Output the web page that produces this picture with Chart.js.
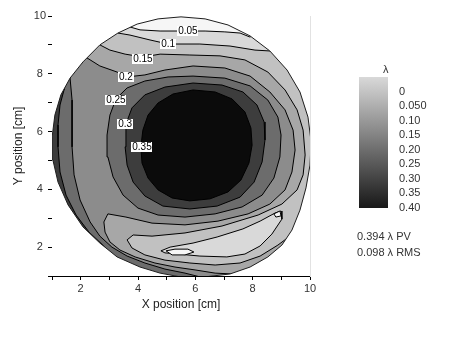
<!DOCTYPE html>
<html><head><meta charset="utf-8">
<script src="https://cdn.jsdelivr.net/npm/chart.js@4.4.0/dist/chart.umd.min.js"></script>
<style>
html,body{margin:0;padding:0;background:#fff;}
#wrap{position:relative;width:474px;height:338px;overflow:hidden;font-family:'Liberation Sans',Arial,sans-serif;}
#main{position:absolute;left:0;top:0;width:474px;height:338px;}
#cb{position:absolute;left:359px;top:60px;width:105px;height:160px;}
.txt{position:absolute;font-size:11px;color:#333;white-space:nowrap;line-height:11px;}
</style></head><body>
<div id="wrap">
<canvas id="main" width="474" height="338"></canvas>
<canvas id="cb" width="105" height="160"></canvas>
</div>
<script>
// ---- axes / text ----
const xTickValues = [1,2,3,4,5,6,7,8,9,10];
const xTickLabels = ['','2','','4','','6','','8','','10'];
const yTickValues = [1,2,3,4,5,6,7,8,9,10];
const yTickLabels = ['','2','','4','','6','','8','','10'];
const xTitle = 'X position [cm]';
const yTitle = 'Y position [cm]';

// ---- contour levels and band colours ----
const levels = [0, 0.05, 0.10, 0.15, 0.20, 0.25, 0.30, 0.35];
const bandColors = ['#f6f6f6','#d9d9d9','#c1c1c1','#a7a7a7','#8c8c8c','#6c6c6c','#3d3d3d','#0b0b0b'];

// ---- contour labels (data coords) ----
const contourLabelText = ['0.05','0.1','0.15','0.2','0.25','0.3','0.35'];
const contourLabelX = [5.74, 5.05, 4.17, 3.58, 3.23, 3.55, 4.14];
const contourLabelY = [9.48, 9.03, 8.51, 7.89, 7.09, 6.26, 5.47];

// ---- colour bar ----
const colorbarTitle = 'λ';
const colorbarTicks = [0, 0.05, 0.10, 0.15, 0.20, 0.25, 0.30, 0.35, 0.40];
const colorbarLabels = ['0','0.050','0.10','0.15','0.20','0.25','0.30','0.35','0.40'];
const colorbarRange = [-0.05, 0.40];
const colorbarTop = '#d9d9d9', colorbarBottom = '#181818';
const statsLines = ['0.394 λ PV', '0.098 λ RMS'];

// ---- aperture outline ----
const rim = [[5.50,9.97],[6.34,9.90],[7.14,9.69],[7.91,9.31],[8.60,8.79],[9.20,8.13],[9.65,7.37],[9.93,6.50],[10.04,5.64],[10.00,4.84],[9.86,4.05],[9.65,3.28],[9.37,2.59],[9.02,2.07],[8.53,1.66],[7.91,1.31],[7.21,1.07],[6.34,0.97],[5.47,0.97],[4.77,1.10],[4.07,1.31],[3.27,1.66],[2.67,2.14],[2.08,2.70],[1.56,3.46],[1.21,4.25],[1.03,5.02],[1.00,5.78],[1.10,6.57],[1.31,7.27],[1.63,7.85],[2.08,8.41],[2.67,9.00],[3.30,9.41],[3.97,9.72],[4.70,9.90]];

// ---- regions (value >= level), closed through points outside the aperture ----
const regionBase = [[0.3,0.4],[10.6,0.4],[10.6,10.6],[0.3,10.6]];
const region005 = [[3.55,10.6],[3.72,9.62],[4.07,9.52],[4.77,9.48],[5.40,9.48],[6.34,9.48],[7.03,9.45],[7.56,9.41],[7.91,9.27],[8.60,9.86],[10.6,10.6],[10.6,0.4],[0.3,0.4],[0.3,10.6]];
const region010 = [[3.30,9.41],[3.72,9.34],[4.42,9.17],[5.05,9.03],[6.16,9.03],[7.21,8.96],[8.08,8.82],[8.60,8.79],[9.13,9.17],[10.6,10.6],[10.6,0.4],[0.3,0.4],[0.3,10.6],[3.0,10.6]];
const region015 = [[2.67,9.00],[3.02,8.82],[3.55,8.68],[4.17,8.58],[4.77,8.68],[5.81,8.65],[6.86,8.62],[7.73,8.48],[8.53,8.06],[9.13,7.44],[9.55,6.75],[9.76,6.05],[9.83,5.19],[9.76,4.50],[9.55,3.98],[9.02,3.49],[8.19,3.11],[6.93,2.73],[5.64,2.49],[4.49,2.38],[3.83,2.42],[3.62,2.25],[3.79,1.97],[4.24,1.73],[4.94,1.55],[5.81,1.45],[6.69,1.38],[7.56,1.45],[8.26,1.69],[8.88,2.07],[9.30,2.38],[10.6,2.0],[10.6,0.4],[0.3,0.4],[0.3,9.17],[2.50,9.17]];
const region020 = [[2.22,8.55],[2.67,8.27],[3.27,8.06],[3.62,7.89],[4.24,7.96],[4.94,8.13],[5.92,8.27],[7.03,8.20],[7.91,7.92],[8.60,7.37],[9.13,6.75],[9.41,6.05],[9.48,5.36],[9.37,4.60],[9.13,3.98],[8.60,3.49],[7.84,3.15],[6.79,2.90],[5.64,2.77],[4.49,2.83],[3.58,3.04],[2.95,3.15],[2.81,2.87],[2.85,2.52],[3.02,2.18],[3.37,1.90],[3.90,1.66],[4.59,1.45],[5.29,1.31],[5.99,1.21],[6.69,1.10],[7.28,1.07],[7.28,0.4],[0.3,0.4],[0.3,8.82],[1.98,8.82]];
const region025in = [[5.92,7.92],[7.03,7.85],[7.91,7.58],[8.53,7.09],[8.88,6.50],[8.99,5.88],[8.95,5.12],[8.74,4.39],[8.33,3.80],[7.63,3.39],[6.69,3.15],[5.64,3.04],[4.70,3.11],[4.00,3.35],[3.48,3.80],[3.13,4.43],[2.95,5.12],[2.92,5.88],[3.02,6.57],[3.23,7.13],[3.62,7.51],[4.24,7.75],[5.05,7.89]];
const region025out = [[1.63,7.85],[1.70,7.09],[1.70,6.23],[1.70,5.47],[1.77,4.50],[1.98,3.63],[2.33,2.87],[2.67,2.38],[3.09,2.00],[3.62,1.69],[4.24,1.45],[4.94,1.24],[5.64,1.10],[6.16,0.97],[6.16,0.4],[0.3,0.4],[0.3,8.48],[1.63,8.48]];
const region030in = [[5.92,7.68],[6.93,7.61],[7.66,7.37],[8.15,6.92],[8.40,6.33],[8.43,5.71],[8.33,4.95],[8.05,4.25],[7.56,3.73],[6.76,3.42],[5.81,3.32],[4.87,3.42],[4.24,3.77],[3.83,4.25],[3.62,4.84],[3.55,5.47],[3.58,6.26],[3.79,6.82],[4.24,7.27],[4.94,7.54]];
const region030out = [[1.42,7.44],[1.28,6.92],[1.21,6.23],[1.21,5.47],[1.28,4.60],[1.49,3.80],[1.84,3.11],[2.29,2.52],[2.85,2.00],[2.85,0.4],[0.3,0.4],[0.3,7.7],[1.42,7.7]];
const region035 = [[5.92,7.44],[6.69,7.37],[7.28,7.13],[7.73,6.68],[7.94,6.12],[7.98,5.53],[7.87,4.91],[7.59,4.32],[7.14,3.91],[6.51,3.67],[5.81,3.60],[5.19,3.70],[4.70,3.98],[4.35,4.39],[4.14,4.91],[4.10,5.47],[4.17,6.05],[4.35,6.57],[4.70,6.99],[5.22,7.30]];
// low islands inside the lower tongue (value < level)
const island010 = [[4.80,1.87],[5.12,2.00],[5.92,2.14],[6.76,2.35],[7.66,2.63],[8.26,2.90],[8.78,3.18],[8.99,3.25],[9.02,2.97],[8.67,2.45],[8.26,2.04],[7.73,1.76],[7.10,1.66],[6.16,1.69],[5.40,1.76],[4.94,1.80]];
const island005a = [[4.98,1.87],[5.29,1.93],[5.74,1.93],[5.95,1.83],[5.64,1.73],[5.19,1.73]];
const island005b = [[8.74,3.15],[8.95,3.25],[8.99,3.08],[8.81,3.04]];

Chart.defaults.font.family = "'Liberation Sans', Arial, sans-serif";
Chart.defaults.color = '#333';

function toPts(a){ return a.map(p => ({x:p[0], y:p[1]})); }
function closed(a){ return a.concat([a[0]]); }

const paint = [
  {poly: regionBase, band: 0, line: false},
  {poly: region005, band: 1, line: true},
  {poly: region010, band: 2, line: true},
  {poly: region015, band: 3, line: true},
  {poly: region020, band: 4, line: true},
  {poly: region025in, band: 5, line: true},
  {poly: region025out, band: 5, line: true},
  {poly: region030in, band: 6, line: true},
  {poly: region030out, band: 6, line: true},
  {poly: region035, band: 7, line: true},
  {poly: island010, band: 1, line: true},
  {poly: island005a, band: 0, line: true},
  {poly: island005b, band: 0, line: true}
];

const datasets = paint.map(l => ({
  data: toPts(closed(l.poly)),
  showLine: true, fill: 'shape',
  backgroundColor: bandColors[l.band],
  borderColor: l.line ? '#000' : 'rgba(0,0,0,0)',
  borderWidth: 1, pointRadius: 0, pointHoverRadius: 0, tension: 0
}));
// white mask outside the aperture (outer frame reversed, aperture as hole)
const maskPoly = [[5.5,11],[0,11],[0,0],[11,0],[11,11],[5.5,11]].concat(rim).concat([rim[0],[5.5,11]]);
datasets.push({data: toPts(maskPoly), showLine:true, fill:'shape', backgroundColor:'#ffffff',
  borderColor:'rgba(0,0,0,0)', borderWidth:1, pointRadius:0, pointHoverRadius:0, tension:0});
datasets.push({data: toPts(closed(rim)), showLine:true, fill:false, backgroundColor:'rgba(0,0,0,0)',
  borderColor:'#1e1e1e', borderWidth:1, pointRadius:0, pointHoverRadius:0, tension:0});
const N = datasets.length;
datasets.forEach((d,i) => { d.order = N - i; });

const contourLabelPlugin = {
  id: 'contourLabels',
  afterDatasetsDraw(chart){
    const {ctx} = chart; const xs = chart.scales.x, ys = chart.scales.y;
    ctx.save();
    ctx.font = "10px 'Liberation Sans', Arial, sans-serif";
    ctx.textAlign = 'center'; ctx.textBaseline = 'middle';
    contourLabelText.forEach((t,i) => {
      const px = xs.getPixelForValue(contourLabelX[i]);
      const py = ys.getPixelForValue(contourLabelY[i]);
      const w = ctx.measureText(t).width;
      ctx.fillStyle = '#ffffff';
      ctx.fillRect(Math.round(px - w/2 - 1), Math.round(py - 5), Math.round(w + 2), 10);
      ctx.fillStyle = '#000000';
      ctx.fillText(t, px, py + 0.5);
    });
    ctx.restore();
  }
};

new Chart(document.getElementById('main'), {
  type: 'scatter',
  data: {datasets},
  plugins: [contourLabelPlugin],
  options: {
    responsive: false, animation: false, devicePixelRatio: 1, events: [],
    layout: {padding: {left: 0, right: 164, top: 16, bottom: 18}},
    plugins: {legend: {display: false}, tooltip: {enabled: false}},
    scales: {
      x: {
        type: 'linear', position: 'bottom', min: 1, max: 10, z: 1,
        afterBuildTicks: s => { s.ticks = xTickValues.map(v => ({value: v})); },
        afterFit: s => { s.height = 44; },
        ticks: {callback: (v,i) => xTickLabels[i], font: {size: 11}, color: '#333', padding: 2, maxRotation: 0, autoSkip: false},
        grid: {drawOnChartArea: false, drawTicks: true, tickLength: 4, color: '#000', tickColor: '#000'},
        border: {color: '#000', width: 1},
        title: {display: true, text: xTitle, font: {size: 12}, color: '#222', padding: {top: 0, bottom: 8}}
      },
      y: {
        type: 'linear', position: 'left', min: 1, max: 10, z: 1,
        afterBuildTicks: s => { s.ticks = yTickValues.map(v => ({value: v})); },
        afterFit: s => { s.width = 52; },
        ticks: {callback: (v,i) => yTickLabels[i], font: {size: 11}, color: '#333', padding: 2, crossAlign: 'center', autoSkip: false},
        grid: {drawOnChartArea: false, drawTicks: true, tickLength: 4, color: '#000', tickColor: '#000'},
        border: {color: '#000', width: 1},
        title: {display: true, text: yTitle, font: {size: 12}, color: '#222', padding: {top: 11, bottom: 0}}
      },
      y2: {
        type: 'linear', position: 'right', min: 1, max: 10, z: 1,
        afterFit: s => { s.width = 0; },
        ticks: {display: false},
        grid: {drawOnChartArea: false, drawTicks: false},
        border: {color: '#e2e2e2', width: 1}
      }
    }
  }
});

new Chart(document.getElementById('cb'), {
  type: 'bar',
  data: {labels: [colorbarTitle], datasets: [{
    data: [colorbarRange],
    backgroundColor: c => {
      const ch = c.chart, a = ch.chartArea;
      if (!a) return '#888';
      const g = ch.ctx.createLinearGradient(0, a.top, 0, a.bottom);
      g.addColorStop(0, colorbarTop); g.addColorStop(1, colorbarBottom);
      return g;
    },
    borderWidth: 0, barPercentage: 1, categoryPercentage: 1
  }]},
  options: {
    responsive: false, animation: false, devicePixelRatio: 1, events: [],
    layout: {padding: {left: 0, right: 0, top: 17, bottom: 12}},
    plugins: {legend: {display: false}, tooltip: {enabled: false}},
    scales: {
      x: {display: false},
      y: {
        position: 'right', min: colorbarRange[0], max: colorbarRange[1], reverse: true,
        afterBuildTicks: s => { s.ticks = colorbarTicks.map(v => ({value: v})); },
        afterFit: s => { s.width = 76; },
        ticks: {callback: (v,i) => colorbarLabels[i], font: {size: 11}, color: '#333', padding: 3, autoSkip: false},
        grid: {display: false}, border: {display: false}
      }
    }
  }
});

// text blocks beside the colour bar
const wrap = document.getElementById('wrap');
function addText(t, left, top){ const d = document.createElement('div'); d.className = 'txt'; d.textContent = t; d.style.left = left + 'px'; d.style.top = top + 'px'; wrap.appendChild(d); }
addText(colorbarTitle, 383, 64);
statsLines.forEach((t,i) => addText(t, 357, 231 + i*16));
</script>
</body></html>
